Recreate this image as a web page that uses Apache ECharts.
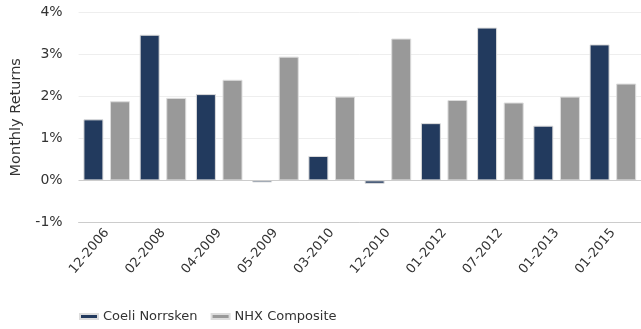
<!DOCTYPE html>
<html>
<head>
<meta charset="utf-8">
<script src="https://cdn.jsdelivr.net/npm/echarts@6/dist/echarts.min.js"></script>
<style>
  html, body { margin: 0; padding: 0; background: #fff; }
  #chart { width: 641px; height: 329px; }
</style>
</head>
<body>
<div id="chart"></div>
<script>
// Monthly returns (%) for the fund and its benchmark
const months = ['12-2006', '02-2008', '04-2009', '05-2009', '03-2010',
                '12-2010', '01-2012', '07-2012', '01-2013', '01-2015'];
const coeliNorrsken = [1.45, 3.46, 2.05, -0.05, 0.58, -0.08, 1.36, 3.63, 1.30, 3.23];
const nhxComposite  = [1.88, 1.96, 2.39, 2.94, 1.99, 3.37, 1.91, 1.85, 1.99, 2.30];
const yTicks = { min: -1, max: 4, step: 1 };

const font = 'DejaVu Sans, Verdana, sans-serif';
const chart = echarts.init(document.getElementById('chart'), null, { renderer: 'canvas' });

chart.setOption({
  animation: false,
  textStyle: { fontFamily: font },
  grid: { left: 78.6, right: -5, top: 12, bottom: 106.5 },
  legend: {
    top: 305, left: 74,
    icon: 'rect', itemWidth: 18, itemHeight: 5, itemGap: 13, itemTextGap: 4,
    textStyle: { fontFamily: font, fontSize: 13, color: '#333' },
    data: ['Coeli Norrsken', 'NHX Composite']
  },
  xAxis: {
    type: 'category',
    data: months,
    axisLine: { onZero: false, lineStyle: { color: '#ccc', width: 1 } },
    axisTick: { alignWithLabel: true, length: 6, lineStyle: { color: '#ccc' } },
    axisLabel: { rotate: 50, margin: 8, fontSize: 13, color: '#333', fontFamily: font }
  },
  yAxis: {
    type: 'value',
    min: yTicks.min, max: yTicks.max, interval: yTicks.step,
    name: 'Monthly Returns',
    nameLocation: 'middle', nameGap: 55,
    nameTextStyle: { fontSize: 14.5, color: '#333', fontFamily: font },
    axisLine: { show: false },
    axisTick: { show: false },
    axisLabel: { formatter: '{value}%', margin: 16, fontSize: 14, color: '#333', fontFamily: font },
    splitLine: { lineStyle: { color: '#eeeeee', width: 1 } }
  },
  series: [
    {
      name: 'Coeli Norrsken', type: 'bar', data: coeliNorrsken,
      barWidth: 20, barGap: '33%',
      itemStyle: { color: '#223a5e', borderColor: '#dddddd', borderWidth: 1 },
      markLine: {
        silent: true, symbol: 'none', label: { show: false },
        lineStyle: { color: '#cccccc', type: 'solid', width: 1 },
        data: [{ yAxis: 0 }]
      }
    },
    {
      name: 'NHX Composite', type: 'bar', data: nhxComposite,
      barWidth: 20,
      itemStyle: { color: '#999999', borderColor: '#dddddd', borderWidth: 1 }
    }
  ]
});
</script>
</body>
</html>
